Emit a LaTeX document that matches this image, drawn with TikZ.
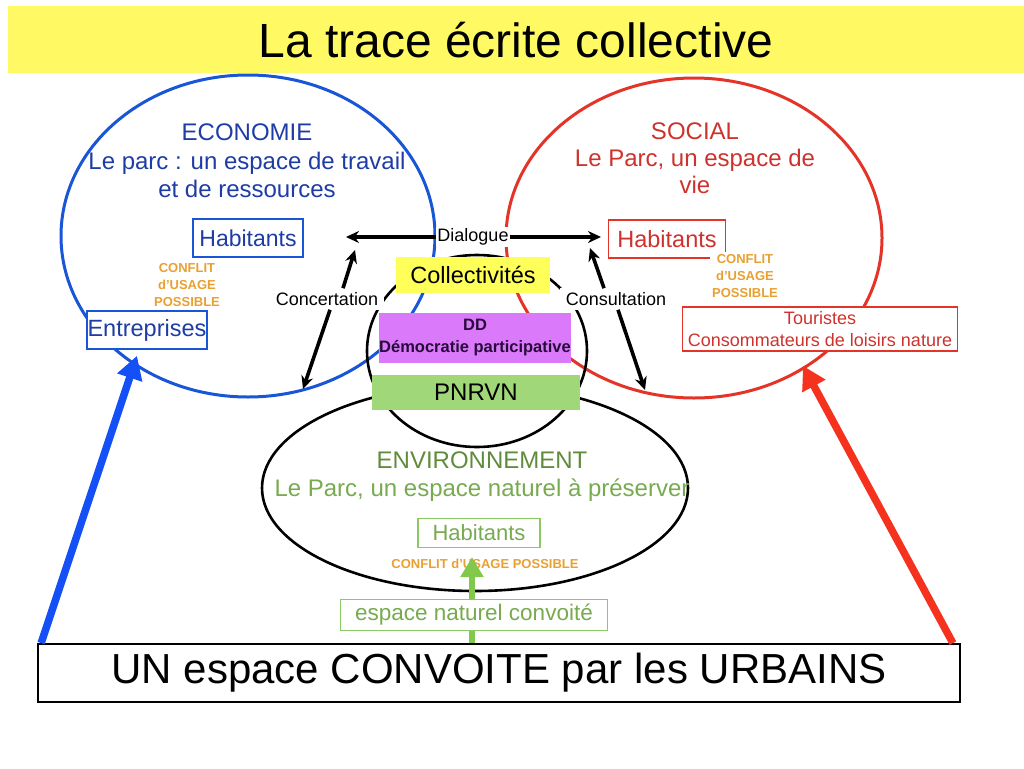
\documentclass[tikz,border=0pt]{standalone}
\usepackage{fontspec}
\setmainfont{Liberation Sans}
\usetikzlibrary{arrows.meta,calc}
\definecolor{band}{RGB}{255,250,100}
\definecolor{ecoB}{RGB}{25,85,215}
\definecolor{ecoT}{RGB}{30,60,165}
\definecolor{socR}{RGB}{228,52,40}
\definecolor{socT}{RGB}{205,50,45}
\definecolor{orC}{RGB}{232,160,50}
\definecolor{colY}{RGB}{255,255,90}
\definecolor{ddV}{RGB}{218,122,250}
\definecolor{ddT}{RGB}{40,10,60}
\definecolor{pnG}{RGB}{160,215,120}
\definecolor{envT}{RGB}{95,140,60}
\definecolor{envT2}{RGB}{120,170,80}
\definecolor{gBox}{RGB}{140,200,100}
\definecolor{gArr}{RGB}{130,200,75}
\definecolor{bArr}{RGB}{20,80,245}
\definecolor{rArr}{RGB}{245,50,30}
\begin{document}
\begin{tikzpicture}[x=1pt,y=-1pt,
  box/.style={draw, fill=white, line width=1.6pt, inner sep=0pt, align=center},
  fbox/.style={inner sep=0pt, align=center},
  lbl/.style={fill=white, inner xsep=6pt, inner ysep=4pt, font=\fontsize{18}{21}\selectfont},
  conf/.style={text=orC, align=center, inner sep=2pt, font=\bfseries\fontsize{13}{17}\selectfont},
  arr/.style={line width=3.6pt, -{Stealth[length=13pt,width=12pt]}},
  big/.style={line width=7.5pt, -{Triangle[length=23pt,width=25pt]}},
  ell/.style={line width=3pt}]
\useasboundingbox (0,0) rectangle (1024,768);
% title
\fill[band] (8,6) rectangle (1024,73);
\node[font=\fontsize{48}{52}\selectfont] (title) at (516,40) {La trace écrite collective};
% ellipses
\draw[draw=ecoB, ell] (248,236) ellipse [x radius=187, y radius=161];
\draw[draw=socR, ell] (694,238) ellipse [x radius=188, y radius=160];
\draw[black, line width=2.6pt] (475,488) ellipse [x radius=213, y radius=103];
\draw[black, line width=2.6pt] (477,351) ellipse [x radius=110, y radius=96];
% boxes
\node[box, draw=ecoB, text=ecoT, minimum width=110pt, minimum height=38pt, font=\fontsize{23}{26}\selectfont] (habB) at (248,238) {Habitants};
\node[box, draw=ecoB, text=ecoT, minimum width=120pt, minimum height=38pt, font=\fontsize{23.5}{26}\selectfont] (ent) at (147,330) {Entreprises};
\node[box, draw=socR, text=socT, minimum width=117pt, minimum height=38pt, font=\fontsize{23.5}{26}\selectfont] (habR) at (667,239) {Habitants};
\node[box, draw=socR, text=socT, minimum width=275pt, minimum height=44pt, font=\fontsize{18}{22}\selectfont] (tour) at (820,329) {Touristes\\Consommateurs de loisirs nature};
\node[fbox, fill=colY, minimum width=154pt, minimum height=36pt, font=\fontsize{23.5}{24}\selectfont] (coll) at (473,275) {Collectivités};
\node[fbox, fill=ddV, text=ddT, minimum width=191pt, minimum height=50pt, font=\bfseries\fontsize{16.5}{22}\selectfont] (dd) at (475,338) {DD\\Démocratie participative};
\node[fbox, fill=pnG, minimum width=208pt, minimum height=35pt, font=\fontsize{24}{24}\selectfont] (pn) at (476,392) {PNRVN};
\node[box, draw=gBox, text=envT2, minimum width=122pt, minimum height=29pt, font=\fontsize{22}{24}\selectfont] (habG) at (479,533) {Habitants};
\node[box, line width=1.8pt, minimum width=922pt, minimum height=58pt, font=\fontsize{42}{44}\selectfont] (un) at (499,673) {UN espace CONVOITE par les URBAINS};
% big arrows
\draw[big, bArr] ([xshift=4pt]un.north west) -- ($(ent.south)+(-10,6)$);
\draw[big, rArr] ([xshift=-8pt]un.north east) -- ($(tour.south)+(-17,14)$);
% texts
\node[fbox, text=ecoT, font=\fontsize{24}{28.5}\selectfont] (eco) at (247,161) {ECONOMIE\\Le parc : un espace de travail\\et de ressources};
\node[fbox, text=socT, font=\fontsize{24}{27}\selectfont] (soc) at (695,158) {SOCIAL\\Le Parc, un espace de\\vie};
\node[fbox, font=\fontsize{24}{28}\selectfont] (env) at (482,477) {\textcolor{envT}{ENVIRONNEMENT}\\\textcolor{envT2}{Le Parc, un espace naturel à préserver}};
\node[conf] (confL) at (187,285) {CONFLIT\\d’USAGE\\POSSIBLE};
\node[conf, fill=white] (confR) at (745,276) {CONFLIT\\d’USAGE\\POSSIBLE};
\node[conf] (confE) at (485,564) {CONFLIT d’USAGE POSSIBLE};
% dialogue / concertation / consultation
\node[lbl, inner xsep=1pt, inner ysep=2pt] (dial) at (473,237) {Dialogue};
\coordinate (dl) at (346,237);
\coordinate (dr) at (601,237);
\draw[arr] (dial) -- (dl);
\draw[arr] (dial) -- (dr);
\node[lbl] (conc) at (327,299) {Concertation};
\coordinate (cu) at (355,250);
\coordinate (cd) at (303,389);
\draw[arr] ([xshift=16pt]conc.north) -- (cu);
\draw[arr] ([xshift=3pt]conc.south) -- (cd);
\node[lbl] (cons) at (616,299) {Consultation};
\coordinate (su) at (590,248);
\coordinate (sd) at (645,390);
\draw[arr] ([xshift=-12pt]cons.north) -- (su);
\draw[arr] ([xshift=2pt]cons.south) -- (sd);
% green arrow and coveted space
\coordinate (gtip) at (472,557);
\draw[draw=gArr, fill=gArr, line width=6.5pt, -{Triangle[length=20pt,width=22pt]}] ([xshift=-27pt]un.north) -- (gtip);
\node[box, draw=gBox, text=envT2, minimum width=267pt, minimum height=31pt, font=\fontsize{22.5}{24}\selectfont] (esp) at (474,615) {espace naturel convoité};
\end{tikzpicture}
\end{document}
